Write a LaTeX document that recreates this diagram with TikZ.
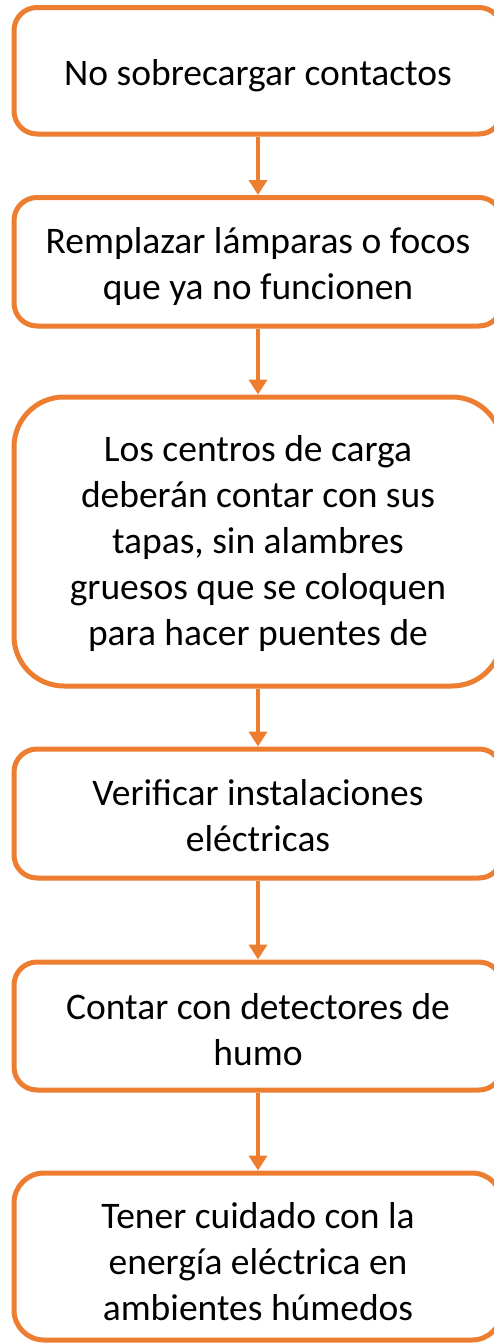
\documentclass[tikz,border=0pt]{standalone}
\usepackage{fontspec}
\setmainfont{Carlito}
\usetikzlibrary{arrows.meta}
\definecolor{orng}{HTML}{ED7D31}
\begin{document}
\begin{tikzpicture}[x=1pt,y=-1pt,
  box/.style={draw=orng,line width=5pt,rounded corners=23pt,minimum width=488pt,inner sep=0pt},
  txt/.style={align=center,inner sep=0pt,font=\fontsize{37.5}{46}\selectfont,text=black},
  conn/.style={draw=orng,line width=4pt,-{Triangle[width=18pt,length=15pt]}}]
\useasboundingbox (0,0) rectangle (494,1344);
\node[box,minimum height=126.5pt] (b1) at (258,70.75) {};
\node[box,minimum height=128.5pt] (b2) at (258,261.75) {};
\node[box,minimum height=289pt,rounded corners=50pt] (b3) at (258,541.5) {};
\node[box,minimum height=129pt] (b4) at (258,813.5) {};
\node[box,minimum height=128pt] (b5) at (258,1026) {};
\node[box,minimum height=167pt,rounded corners=30pt] (b6) at (258,1256.5) {};
\node[txt] (t1) at ([yshift=-5pt]b1.center) {No sobrecargar contactos};
\node[txt] (t2) at ([yshift=-5pt]b2.center) {Remplazar lámparas o focos\\que ya no funcionen};
\node[txt] (t3) at ([yshift=-2pt]b3.center) {Los centros de carga\\deberán contar con sus\\tapas, sin alambres\\gruesos que se coloquen\\para hacer puentes de};
\node[txt] (t4) at ([yshift=-2pt]b4.center) {Verificar instalaciones\\eléctricas};
\node[txt] (t5) at ([yshift=-4pt]b5.center) {Contar con detectores de\\humo};
\node[txt] (t6) at ([yshift=-5pt]b6.center) {Tener cuidado con la\\energía eléctrica en\\ambientes húmedos};
\draw[conn] (b1) -- (b2);
\draw[conn] (b2) -- (b3);
\draw[conn] (b3) -- (b4);
\draw[conn] (b4) -- (b5);
\draw[conn] (b5) -- (b6);
\end{tikzpicture}
\end{document}
